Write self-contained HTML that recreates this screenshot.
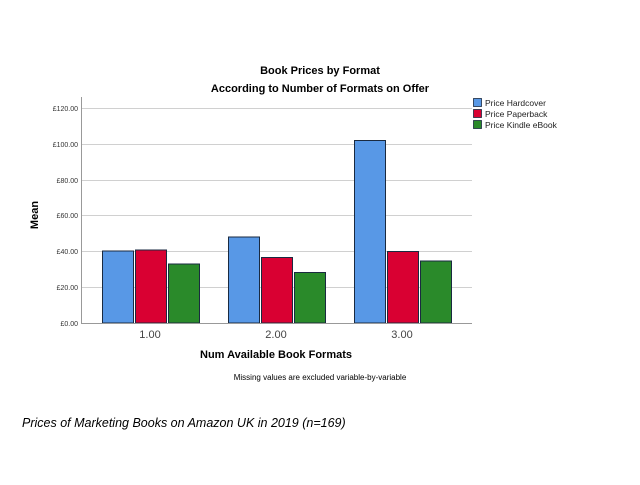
<!DOCTYPE html>
<html><head><style>body{margin:0;background:#fff;width:640px;height:480px;overflow:hidden}</style></head><body>
<svg width="640" height="480" xmlns="http://www.w3.org/2000/svg" font-family="Liberation Sans, Arial, sans-serif">
<text x="320" y="74" font-size="11" font-weight="bold" text-anchor="middle">Book Prices by Format</text>
<text x="320" y="92" font-size="11" font-weight="bold" text-anchor="middle">According to Number of Formats on Offer</text>
<g stroke="#d0d0d0" stroke-width="1">
<line x1="81" y1="108.5" x2="472" y2="108.5"/><line x1="81" y1="144.5" x2="472" y2="144.5"/>
<line x1="81" y1="180.5" x2="472" y2="180.5"/><line x1="81" y1="215.5" x2="472" y2="215.5"/>
<line x1="81" y1="251.5" x2="472" y2="251.5"/><line x1="81" y1="287.5" x2="472" y2="287.5"/>
</g>
<g font-size="7" fill="#333" text-anchor="end">
<text x="78" y="111">£120.00</text><text x="78" y="147">£100.00</text><text x="78" y="183">£80.00</text>
<text x="78" y="218">£60.00</text><text x="78" y="254">£40.00</text><text x="78" y="290">£20.00</text><text x="78" y="326">£0.00</text>
</g>
<g stroke="#1a2a40" stroke-width="1">
<rect x="102.5" y="251" width="31" height="72" fill="#5898e6"/>
<rect x="135.5" y="250" width="31" height="73" fill="#d90032"/>
<rect x="168.5" y="264" width="31" height="59" fill="#2a8a2a"/>
<rect x="228.5" y="237" width="31" height="86" fill="#5898e6"/>
<rect x="261.5" y="257.5" width="31" height="65.5" fill="#d90032"/>
<rect x="294.5" y="272.5" width="31" height="50.5" fill="#2a8a2a"/>
<rect x="354.5" y="140.5" width="31" height="182.5" fill="#5898e6"/>
<rect x="387.5" y="251.5" width="31" height="71.5" fill="#d90032"/>
<rect x="420.5" y="261" width="31" height="62" fill="#2a8a2a"/>
</g>
<line x1="81.5" y1="97" x2="81.5" y2="324" stroke="#999"/>
<line x1="81" y1="323.5" x2="472" y2="323.5" stroke="#999"/>
<g font-size="11" fill="#444" text-anchor="middle">
<text x="150" y="338">1.00</text><text x="276" y="338">2.00</text><text x="402" y="338">3.00</text>
</g>
<text x="38" y="215" font-size="11" font-weight="bold" text-anchor="middle" transform="rotate(-90 38 215)">Mean</text>
<text x="276" y="358" font-size="11" font-weight="bold" text-anchor="middle">Num Available Book Formats</text>
<text x="320" y="380" font-size="8" text-anchor="middle">Missing values are excluded variable-by-variable</text>
<g stroke="#1a2a40" stroke-width="0.8">
<rect x="473.5" y="98.5" width="8" height="8" fill="#5898e6"/>
<rect x="473.5" y="109.5" width="8" height="8" fill="#d90032"/>
<rect x="473.5" y="120.5" width="8" height="8" fill="#2a8a2a"/>
</g>
<g font-size="8.5" fill="#222">
<text x="485" y="106">Price Hardcover</text><text x="485" y="117">Price Paperback</text><text x="485" y="128">Price Kindle eBook</text>
</g>
<text x="22" y="427" font-size="12.5" font-style="italic">Prices of Marketing Books on Amazon UK in 2019 (n=169)</text>
</svg>
</body></html>
